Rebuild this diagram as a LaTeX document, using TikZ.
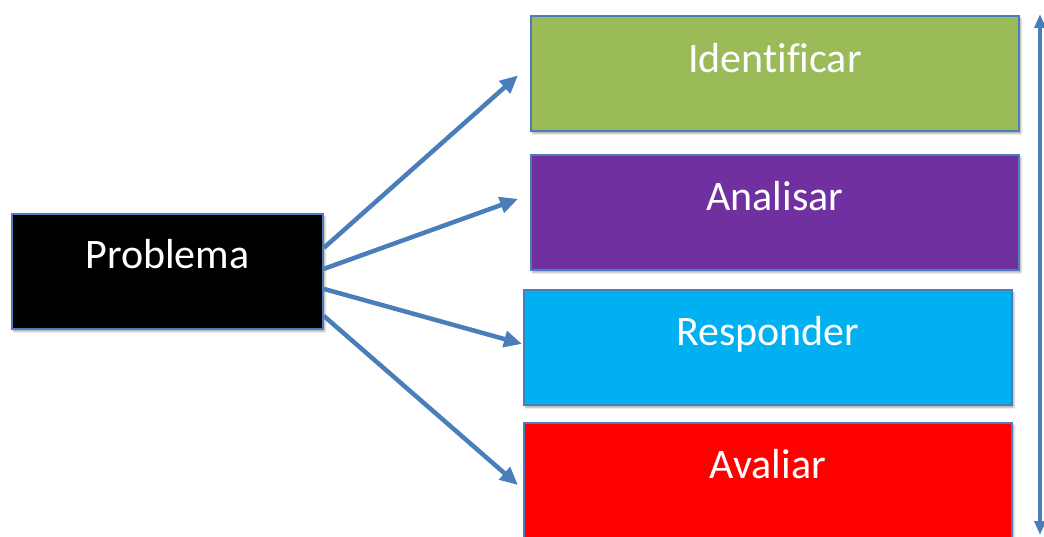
\documentclass[tikz,border=0pt]{standalone}
\usepackage{fontspec}
\setmainfont{Carlito}[Ligatures=NoCommon]
\usetikzlibrary{arrows.meta,shadows.blur}
\definecolor{edgeblue}{HTML}{4A7EBB}
\definecolor{stepgreen}{HTML}{9BBB59}
\definecolor{steppurple}{HTML}{7030A0}
\definecolor{stepcyan}{HTML}{00B0F0}
\definecolor{stepred}{HTML}{FF0000}
\tikzset{
  box/.style={draw=edgeblue, line width=1.8pt, rectangle, inner sep=0pt,
    anchor=north west, minimum height=115pt,
    blur shadow={shadow xshift=2pt, shadow yshift=-2.5pt, shadow blur steps=6,
      shadow opacity=35}},
  lbl/.style={anchor=base, text=white, inner sep=0pt,
    font=\fontsize{42}{50}\selectfont},
  conn/.style={draw=edgeblue, line width=4.5pt,
    -{Triangle[length=18pt,width=16pt]}},
  span/.style={draw=edgeblue, line width=3.5pt,
    {Triangle[length=14pt,width=11pt]}-{Triangle[length=14pt,width=11pt]}}
}
\begin{document}
\begin{tikzpicture}[x=1pt,y=-1pt]
\useasboundingbox (0,0) rectangle (1044,536);
\clip (0,0) rectangle (1044,536);

% boxes
\node[box, fill=black, minimum width=311pt] (prob) at (11,213) {};
\node[box, fill=stepgreen, minimum width=488pt] (idf) at (530,15) {};
\node[box, fill=steppurple, minimum width=488pt] (anl) at (530,154) {};
\node[box, fill=stepcyan, minimum width=488pt] (rsp) at (523,289) {};
\node[box, fill=stepred, minimum width=488pt, minimum height=118pt] (avl) at (523,422) {};

% labels
\node[lbl] (tprob) at ([yshift=-55pt]prob.north) {Problema};
\node[lbl] (tidf) at ([yshift=-57pt]idf.north) {Identificar};
\node[lbl] (tanl) at ([yshift=-56pt]anl.north) {Analisar};
\node[lbl] (trsp) at ([yshift=-56pt]rsp.north) {Responder};
\node[lbl] (tavl) at ([yshift=-56pt]avl.north) {Avaliar};

% connectors
\draw[conn] ([yshift=23.5pt]prob.east) -- ([xshift=-12pt,yshift=-2pt]idf.west);
\draw[conn] ([yshift=2.5pt]prob.east) -- ([xshift=-12pt,yshift=13.5pt]anl.west);
\draw[conn] ([yshift=-17.5pt]prob.east) -- ([xshift=-1pt,yshift=3.5pt]rsp.west);
\draw[conn] ([yshift=-44.5pt]prob.east) -- ([xshift=-5pt,yshift=-63pt]avl.north west);

% vertical span arrow
\coordinate (stop) at (1040,14);
\coordinate (sbot) at (1040,535);
\draw[span] (sbot) -- (stop);
\end{tikzpicture}
\end{document}
